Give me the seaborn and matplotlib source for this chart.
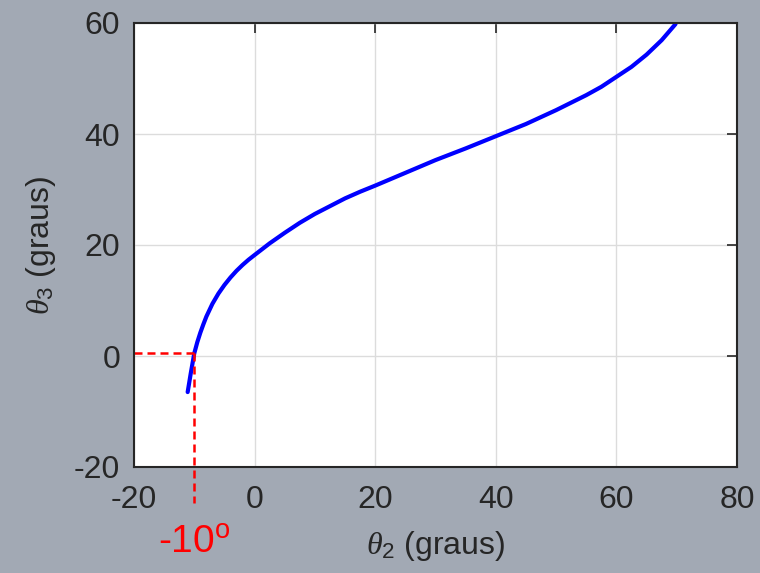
import matplotlib
matplotlib.use("Agg")
import matplotlib.pyplot as plt
import matplotlib.transforms as mtransforms
import pandas as pd
import seaborn as sns

# theta2 (graus) vs theta3 (graus)
theta2 = [-11.1, -10.6, -10.0, -9.5, -9.0, -8.5, -8.0, -7.0, -6.0, -5.0,
          -4.0, -3.0, -2.0, -1.0, 0.0, 2.5, 5.0, 7.5, 10.0, 12.5,
          15.0, 17.5, 20.0, 25.0, 30.0, 35.0, 40.0, 45.0, 50.0, 55.0,
          57.5, 60.0, 62.5, 65.0, 67.5, 69.8]
theta3 = [-6.5, -3.2, 0.5, 2.5, 4.2, 5.7, 7.1, 9.4, 11.25, 12.8,
          14.15, 15.35, 16.4, 17.35, 18.2, 20.3, 22.2, 24.0, 25.6, 27.0,
          28.4, 29.6, 30.7, 33.0, 35.3, 37.4, 39.6, 41.8, 44.3, 47.0,
          48.5, 50.3, 52.1, 54.3, 56.9, 59.8]

mark_x = -10.0
mark_y = 0.5
x_ticks = [-20, 0, 20, 40, 60, 80]
y_ticks = [-20, 0, 20, 40, 60]

BG = "#a2a9b4"
TXT = "#262626"
FS = 23

sns.set_theme(style="whitegrid")
plt.rcParams["font.family"] = ["Liberation Sans", "DejaVu Sans"]
plt.rcParams["mathtext.fontset"] = "custom"
plt.rcParams["mathtext.rm"] = "Liberation Sans"
plt.rcParams["mathtext.it"] = "Liberation Serif:italic"
plt.rcParams["axes.unicode_minus"] = False

df = pd.DataFrame({"theta2": theta2, "theta3": theta3})

fig = plt.figure(figsize=(7.6, 5.73), dpi=100, facecolor=BG)
ax = fig.add_axes([134 / 760, 1 - 467 / 573, 603 / 760, 444 / 573])
ax.set_facecolor("white")

sns.lineplot(data=df, x="theta2", y="theta3", ax=ax, color="#0000ff",
             linewidth=3.0, sort=False, estimator=None)

# red guide lines at theta2 = -10
dash = (0, (3.2, 2.0))
ax.plot([-20, mark_x], [mark_y, mark_y], color="red", linestyle=dash,
        linewidth=1.8, clip_on=False)
ax.plot([mark_x, mark_x], [mark_y, -26.5], color="red", linestyle=dash,
        linewidth=1.8, clip_on=False)

ax.set_xlim(-20, 80)
ax.set_ylim(-20, 60)
ax.set_xticks(x_ticks)
ax.set_yticks(y_ticks)
ax.grid(True, color="#dcdcdc", linewidth=1.0)
ax.tick_params(direction="in", length=7, width=1.2, colors=TXT, labelsize=FS,
               top=True, right=True, labelcolor=TXT)
ax.tick_params(axis="x", pad=13)
ax.tick_params(axis="y", pad=10)
for s in ax.spines.values():
    s.set_color(TXT)
    s.set_linewidth(1.5)

ax.set_xlabel(r"$\theta_2$ (graus)", fontsize=FS, color=TXT, va="center")
ax.xaxis.set_label_coords(0.5, -0.178)
ax.set_ylabel(r"$\theta_3$ (graus)", fontsize=FS, color=TXT, va="center")
ax.yaxis.set_label_coords(-0.154, 0.5)

trans = mtransforms.blended_transform_factory(ax.transData, ax.transAxes)
ax.text(mark_x, -0.171, r"-10$^{\mathrm{o}}$", transform=trans, color="red",
        fontsize=FS + 5, ha="center", va="center")

fig.savefig("out.png", dpi=100, facecolor=BG)
